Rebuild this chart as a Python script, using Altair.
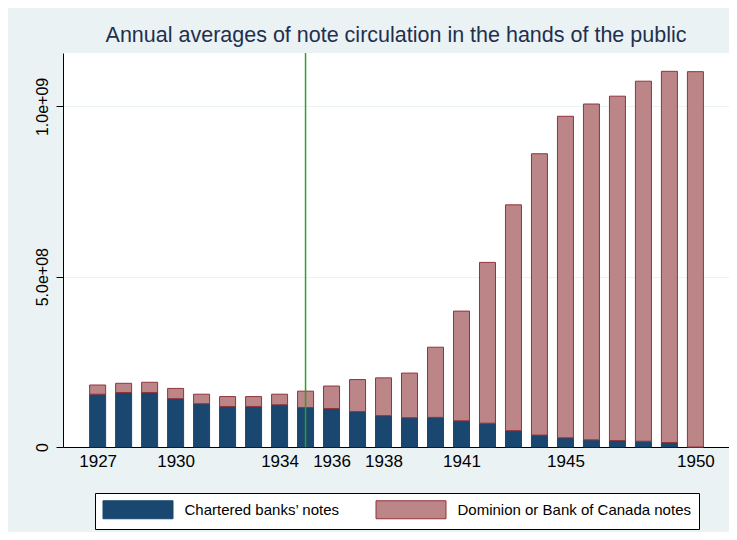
import altair as alt
import pandas as pd

# ---- data (values in notes) ----
years = list(range(1927, 1951))
chartered = [155e6, 160e6, 160e6, 142e6, 127e6, 119e6, 119e6, 124e6, 116e6, 113e6,
             104e6, 92e6, 86e6, 87e6, 77e6, 70e6, 48e6, 35e6, 27e6, 21e6,
             19e6, 17e6, 13e6, 0.0]
dominion = [27e6, 27e6, 30e6, 30e6, 28e6, 29e6, 29e6, 31e6, 48e6, 66e6,
            94e6, 111e6, 131e6, 206e6, 322e6, 472e6, 663e6, 826e6, 944e6, 986e6,
            1011e6, 1057e6, 1090e6, 1102e6]
series_names = ["Chartered banks\u2019 notes", "Dominion or Bank of Canada notes"]
x_tick_years = [1927, 1930, 1934, 1936, 1938, 1941, 1945, 1950]
y_tick_values = [0, 5e8, 1e9]
marker_years = [1935]
title_text = "Annual averages of note circulation in the hands of the public"

rows = []
for i, yr in enumerate(years):
    rows.append({"year": yr, "series": series_names[0], "order": 0, "value": chartered[i]})
    rows.append({"year": yr, "series": series_names[1], "order": 1, "value": dominion[i]})
df = pd.DataFrame(rows)
marker_df = pd.DataFrame({"year": marker_years})

x_scale = alt.Scale(domain=[1925.86, 1951.10], nice=False, zero=False)
y_scale = alt.Scale(domain=[0, 1.1568e9], nice=False)

legend_kw = dict(title=None, orient="none", legendX=32, legendY=440,
                 direction="horizontal",
                 fillColor="white", strokeColor="black", padding=8,
                 symbolType="M-4.375,-1.125H4.375V1.125H-4.375Z",
                 symbolSize=256, symbolOffset=26.5, symbolStrokeWidth=1,
                 labelOffset=38, labelFontSize=15, labelColor="black",
                 labelLimit=400, columnPadding=34)

bars = alt.Chart(df).mark_bar(size=16, strokeWidth=1).encode(
    x=alt.X("year:Q", scale=x_scale,
            axis=alt.Axis(values=x_tick_years, format="d", title=None, ticks=False,
                          grid=False, labelFontSize=17, labelPadding=6,
                          domainColor="black", labelColor="black")),
    y=alt.Y("value:Q", stack="zero", scale=y_scale,
            axis=alt.Axis(values=y_tick_values, title=None, grid=True,
                          gridColor="#eaf2f3", gridWidth=1,
                          labelExpr="datum.value == 0 ? '0' : replace(format(datum.value, '.1e'), 'e+', 'e+0')",
                          labelAngle=270, labelAlign="center", labelBaseline="bottom",
                          labelFontSize=16, labelPadding=6, tickSize=7,
                          tickColor="black", domainColor="black", labelColor="black")),
    color=alt.Color("series:N",
                    scale=alt.Scale(domain=series_names, range=["#1a476f", "#bc8587"]),
                    legend=alt.Legend(**legend_kw)),
    stroke=alt.Stroke("series:N",
                      scale=alt.Scale(domain=series_names, range=["#1a476f", "#90353b"]),
                      legend=alt.Legend(**legend_kw)),
    order=alt.Order("order:Q"),
)

rule = alt.Chart(marker_df).mark_rule(strokeWidth=1.5).encode(
    x=alt.X("year:Q", scale=x_scale),
    stroke=alt.value("#2ca02c"),
)

chart = alt.layer(bars, rule).properties(
    width=666, height=394,
    autosize=alt.AutoSizeParams(type="none"),
    padding={"left": 55, "top": 45, "right": 0, "bottom": 85},
    title=alt.TitleParams(title_text, fontSize=21.5, fontWeight="normal", color="#1f2f4f",
                          anchor="middle", frame="group", baseline="alphabetic",
                          offset=10, dy=21),
).configure(
    background="#eaf2f3",
    font="Liberation Sans",
).configure_view(
    fill="white", stroke=None,
)

chart.save("out.html", embed_options={"renderer": "svg", "actions": False})
